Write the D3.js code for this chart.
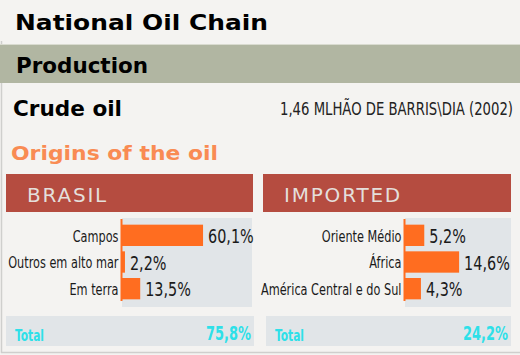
<!DOCTYPE html>
<html><head><meta charset="utf-8">
<script src="https://cdn.jsdelivr.net/npm/d3@7/dist/d3.min.js"></script>
<style>
html,body{margin:0;padding:0;background:#f4f3f1;}
svg{display:block;}
</style></head>
<body>
<script>
// ---- data ----
const title = "National Oil Chain";
const section = "Production";
const subTitle = "Crude oil";
const subNote = "1,46 MLHÃO DE BARRIS\\DIA (2002)";
const originsTitle = "Origins of the oil";
const groups = ["BRASIL", "IMPORTED"];
const brasilCats = ["Campos", "Outros em alto mar", "Em terra"];
const brasilVals = [60.1, 2.2, 13.5];
const importedCats = ["Oriente Médio", "África", "América Central e do Sul"];
const importedVals = [5.2, 14.6, 4.3];
const totals = [75.8, 24.2];
const totalLabel = "Total";

const fmt = v => v.toFixed(1).replace(".", ",") + "%";

const W = 520, H = 355;
const svg = d3.select("body").append("svg").attr("width", W).attr("height", H);
const cond = "'DejaVu Sans Condensed','DejaVu Sans',sans-serif";
const bold = "'DejaVu Sans',Verdana,sans-serif";

function squeeze(sel, f) {
  sel.each(function() {
    const L = this.getComputedTextLength();
    d3.select(this).attr("textLength", L * f).attr("lengthAdjust", "spacingAndGlyphs");
  });
}
function fitTo(sel, w) {
  sel.attr("textLength", w).attr("lengthAdjust", "spacingAndGlyphs");
}

svg.append("rect").attr("width", W).attr("height", H).attr("fill", "#f4f3f1");
// border lines
svg.append("line").attr("x1", 1.5).attr("x2", 1.5).attr("y1", 41).attr("y2", 353).attr("stroke", "#cfcfcd").attr("stroke-width", 1.5);
svg.append("line").attr("x1", 1).attr("x2", W).attr("y1", 352.5).attr("y2", 352.5).attr("stroke", "#cfcfcd").attr("stroke-width", 1.5);

svg.append("text").attr("x", 15).attr("y", 30).text(title)
  .attr("font-family", bold).attr("font-weight", "bold").attr("font-size", 22).attr("fill", "#000")
  .call(fitTo, 253);

svg.append("rect").attr("x", 0).attr("y", 44).attr("width", W).attr("height", 1).attr("fill", "#d9dbd0");
svg.append("rect").attr("x", 0).attr("y", 45).attr("width", W).attr("height", 38).attr("fill", "#b1b6a2");
svg.append("text").attr("x", 16).attr("y", 73).text(section)
  .attr("font-family", bold).attr("font-weight", "bold").attr("font-size", 21).attr("fill", "#000")
  .call(fitTo, 132);

svg.append("text").attr("x", 13).attr("y", 116).text(subTitle)
  .attr("font-family", bold).attr("font-weight", "bold").attr("font-size", 21).attr("fill", "#000")
  .call(fitTo, 109);
svg.append("text").attr("x", 280).attr("y", 115).text(subNote)
  .attr("font-family", cond).attr("font-size", 18).attr("fill", "#222")
  .call(fitTo, 233);

svg.append("text").attr("x", 11).attr("y", 160).text(originsTitle)
  .attr("font-family", bold).attr("font-weight", "bold").attr("font-size", 20).attr("fill", "#f98b53")
  .call(fitTo, 207);

const panels = [
  {name: groups[0], cats: brasilCats, vals: brasilVals, total: totals[0],
   hx: 6, hw: 247, ax: 122, pr: 252, dmax: 96.4, tx: 6, tw: 248},
  {name: groups[1], cats: importedCats, vals: importedVals, total: totals[1],
   hx: 263, hw: 248, ax: 405, pr: 511, dmax: 28.6, tx: 266, tw: 245}
];

panels.forEach(p => {
  const g = svg.append("g");
  // header
  g.append("rect").attr("x", p.hx).attr("y", 174).attr("width", p.hw).attr("height", 38).attr("fill", "#b54c40");
  g.append("text").attr("x", p.hx + 21).attr("y", 202).text(p.name)
    .attr("font-family", "'DejaVu Sans',sans-serif").attr("font-size", 20).attr("letter-spacing", 1.8)
    .attr("fill", "#e4dfdb");

  const x = d3.scaleLinear().domain([0, p.dmax]).range([p.ax, p.pr]);
  const y = d3.scaleBand().domain(p.cats).range([222, 302]).paddingInner(0.2).paddingOuter(0.1);

  g.append("rect").attr("x", p.ax).attr("y", 218).attr("width", p.pr - p.ax).attr("height", 89).attr("fill", "#e1e5e8");

  g.selectAll(".bar").data(p.vals).join("rect")
    .attr("x", x(0)).attr("y", (d, i) => y(p.cats[i]))
    .attr("width", d => x(d) - x(0)).attr("height", y.bandwidth())
    .attr("fill", "#ff6d20");

  g.selectAll(".val").data(p.vals).join("text")
    .attr("x", d => x(d) + 5).attr("y", (d, i) => y(p.cats[i]) + y.bandwidth() / 2)
    .attr("dy", "0.38em").text(fmt)
    .attr("font-family", cond).attr("font-size", 20).attr("fill", "#1a1a1a")
    .call(squeeze, 0.8);

  const axis = g.append("g").attr("transform", `translate(${p.ax - 0.5},0)`)
    .call(d3.axisLeft(y).tickSize(0).tickSizeOuter(0).tickPadding(3));
  axis.select(".domain").attr("stroke", "#ff6d20").attr("stroke-width", 2)
    .attr("d", "M0,219V301");
  axis.selectAll("text").attr("font-family", cond).attr("font-size", 15.5).attr("fill", "#1a1a1a")
    .attr("dy", "0.4em")
    .call(squeeze, 0.81);

  // total box
  g.append("rect").attr("x", p.tx).attr("y", 316).attr("width", p.tw).attr("height", 30).attr("fill", "#e1e5e8");
  g.append("text").attr("x", p.tx + 9).attr("y", 341).text(totalLabel)
    .attr("font-family", cond).attr("font-weight", "bold").attr("font-size", 15).attr("fill", "#2ee0e8")
    .call(fitTo, 29);
  g.append("text").attr("x", p.tx + p.tw - 48).attr("y", 340).text(fmt(p.total))
    .attr("font-family", cond).attr("font-weight", "bold").attr("font-size", 19).attr("fill", "#2ee0e8")
    .call(fitTo, 45);
});
</script>
</body></html>
